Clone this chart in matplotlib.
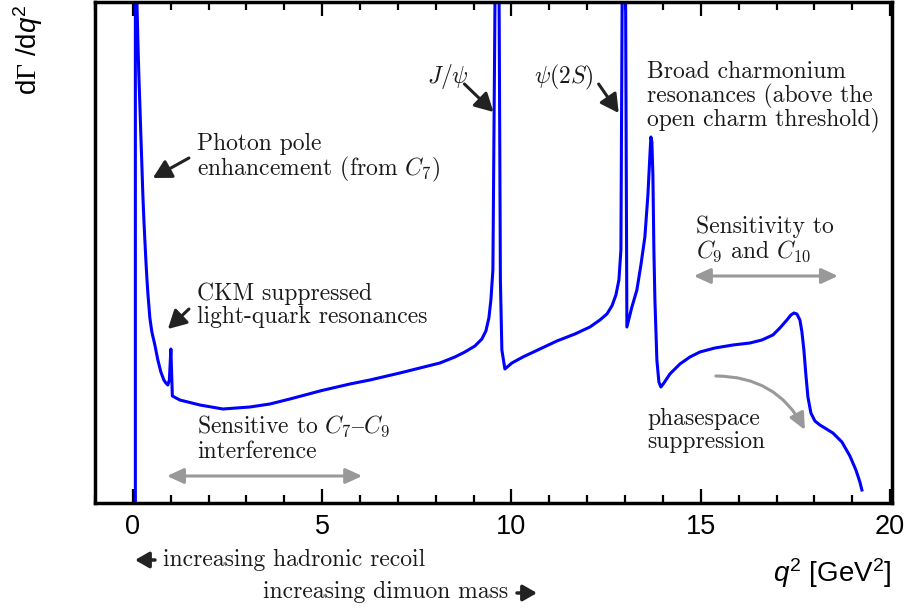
import numpy as np
import matplotlib
matplotlib.use("Agg")
import matplotlib.pyplot as plt
from matplotlib.ticker import MultipleLocator

plt.rcParams['font.family'] = ['Liberation Sans', 'DejaVu Sans']
plt.rcParams['mathtext.fontset'] = 'custom'
plt.rcParams['mathtext.rm'] = 'Liberation Serif'
plt.rcParams['mathtext.it'] = 'Liberation Sans:italic'
plt.rcParams['mathtext.sf'] = 'Liberation Sans'

# schematic differential rate (arbitrary units)
q2 = [0.066, 0.066, 0.106, 0.106, 0.132, 0.158, 0.185, 0.211, 0.238, 0.264,
      0.291, 0.317, 0.343, 0.370, 0.396, 0.449, 0.502, 0.581, 0.660, 0.740,
      0.819, 0.872, 0.924, 0.964, 1.004, 1.043, 1.241, 1.770, 2.377, 3.090,
      3.619, 4.147, 4.992, 5.732, 6.260, 7.052, 7.581, 8.109, 8.505, 8.769,
      9.034, 9.218, 9.324, 9.403, 9.456, 9.509, 9.575, 9.667, 9.707, 9.746,
      9.826, 10.010, 10.301, 10.750, 11.199, 11.675, 12.071, 12.335, 12.520, 12.652,
      12.758, 12.837, 12.890, 12.929, 13.009, 13.048, 13.180, 13.312, 13.418, 13.523,
      13.603, 13.656, 13.682, 13.708, 13.735, 13.761, 13.788, 13.840, 13.893, 13.946,
      14.026, 14.184, 14.448, 14.712, 14.976, 15.372, 15.848, 16.297, 16.614, 16.904,
      17.089, 17.274, 17.380, 17.459, 17.538, 17.618, 17.671, 17.723, 17.776, 17.829,
      17.908, 18.014, 18.146, 18.489, 18.727, 18.938, 19.097, 19.202, 19.255]
rate = [-0.03, 5.5, 5.5, 5.0, 4.60, 4.25, 3.95, 3.65, 3.35, 3.05,
        2.80, 2.60, 2.40, 2.22, 2.07, 1.82, 1.68, 1.55, 1.40, 1.28,
        1.20, 1.17, 1.15, 1.20, 1.51, 1.04, 1.00, 0.95, 0.91, 0.93,
        0.96, 1.01, 1.095, 1.16, 1.20, 1.27, 1.32, 1.37, 1.43, 1.48,
        1.54, 1.61, 1.69, 1.82, 2.00, 2.30, 5.5, 5.5, 2.20, 1.50,
        1.31, 1.37, 1.43, 1.51, 1.59, 1.66, 1.73, 1.80, 1.86, 1.94,
        2.05, 2.20, 2.50, 5.5, 5.5, 1.73, 1.93, 2.10, 2.35, 2.63,
        3.05, 3.45, 3.63, 3.58, 3.25, 2.50, 2.00, 1.40, 1.18, 1.13,
        1.17, 1.26, 1.36, 1.43, 1.48, 1.52, 1.55, 1.57, 1.60, 1.65,
        1.72, 1.80, 1.85, 1.87, 1.86, 1.80, 1.68, 1.50, 1.25, 1.03,
        0.87, 0.79, 0.75, 0.67, 0.58, 0.44, 0.30, 0.18, 0.10]

xticks = [0, 5, 10, 15, 20]

notes = [
    (1.693, [3.50, 3.25], ['Photon pole', r'enhancement (from $C_7$)']),
    (1.693, [2.00, 1.77], ['CKM suppressed', 'light-quark resonances']),
    (1.693, [0.67, 0.42], [r'Sensitive to $C_7\mathrm{–}C_9$', 'interference']),
    (7.778, [4.17], [r'$J/\psi$']),
    (10.582, [4.17], [r'$\psi(2S)$']),
    (13.571, [4.22, 3.98, 3.75], ['Broad charmonium', 'resonances (above the', 'open charm threshold)']),
    (14.868, [2.67, 2.42], ['Sensitivity to', r'$C_9$ and $C_{10}$']),
    (13.598, [0.75, 0.52], ['phasespace', 'suppression']),
]
black_arrows = [((1.481, 3.42), (0.529, 3.22)),
                ((1.481, 1.91), (0.926, 1.71)),
                ((8.757, 4.16), (9.524, 3.88)),
                ((12.302, 4.16), (12.831, 3.87))]
range_arrows = [((0.899, 0.24), (6.058, 0.24)),
                ((14.815, 2.24), (18.624, 2.24))]

fig = plt.figure(figsize=(9.12, 6.10), dpi=100)
ax = fig.add_axes([95 / 912, 107 / 610, 797 / 912, 501.5 / 610])

ax.plot(q2, rate, color='#0000ff', lw=2.2, solid_joinstyle='round')

ax.set_xlim(-1.0, 20.05)
ax.set_ylim(-0.03, 4.985)
ax.set_xticks(xticks)
ax.xaxis.set_minor_locator(MultipleLocator(1))
ax.set_yticks([])
ax.tick_params(which='both', direction='in', top=True, bottom=True,
               width=1.6, color='black', labelsize=19.5, pad=8)
ax.tick_params(which='major', length=10)
ax.tick_params(which='minor', length=5.5)
for s in ax.spines.values():
    s.set_linewidth(2.5)

serif = dict(family=['cmr10', 'DejaVu Serif'], math_fontfamily='cm',
             fontsize=17, color='#1a1a1a')
for x, ys, lines in notes:
    for y, t in zip(ys, lines):
        ax.text(x, y, t, ha='left', va='baseline', **serif)

for tail, head in black_arrows:
    ax.annotate('', xy=head, xytext=tail,
                arrowprops=dict(arrowstyle='-|>,head_length=0.55,head_width=0.3',
                                lw=2.2, color='#222222', mutation_scale=20,
                                shrinkA=0, shrinkB=0))
for a, b in range_arrows:
    ax.annotate('', xy=b, xytext=a,
                arrowprops=dict(arrowstyle='<|-|>,head_length=0.5,head_width=0.23',
                                lw=2.2, color='#999999', mutation_scale=20,
                                shrinkA=0, shrinkB=0))
ax.annotate('', xy=(17.751, 0.70), xytext=(15.397, 1.24),
            arrowprops=dict(arrowstyle='-|>,head_length=0.5,head_width=0.23',
                            lw=2.2, color='#999999', mutation_scale=20,
                            connectionstyle='arc3,rad=-0.3',
                            shrinkA=0, shrinkB=0))

# labels below the axis, placed in figure pixels
fig.text(163 / 912, (610 - 566) / 610, 'increasing hadronic recoil',
         ha='left', va='baseline', **serif)
fig.text(263 / 912, (610 - 598) / 610, 'increasing dimuon mass',
         ha='left', va='baseline', **serif)
ax.annotate('', xy=(135, 610 - 560), xytext=(155, 610 - 560),
            xycoords='figure pixels', textcoords='figure pixels',
            arrowprops=dict(arrowstyle='-|>,head_length=0.42,head_width=0.24',
                            lw=2.5, color='#222222', mutation_scale=20,
                            shrinkA=0, shrinkB=0))
ax.annotate('', xy=(537, 610 - 593), xytext=(517, 610 - 593),
            xycoords='figure pixels', textcoords='figure pixels',
            arrowprops=dict(arrowstyle='-|>,head_length=0.42,head_width=0.24',
                            lw=2.5, color='#222222', mutation_scale=20,
                            shrinkA=0, shrinkB=0))

fig.text(892 / 912, (610 - 582) / 610, r'$q^{\mathsf{2}}$ [GeV$^{\mathsf{2}}$]',
         ha='right', va='baseline', fontsize=20)
fig.text(28 / 912, (610 - 4) / 610, r'd$\Gamma$ /d$q^{\mathsf{2}}$',
         ha='center', va='top', rotation=90, fontsize=20)

fig.savefig('out.png', dpi=100)
